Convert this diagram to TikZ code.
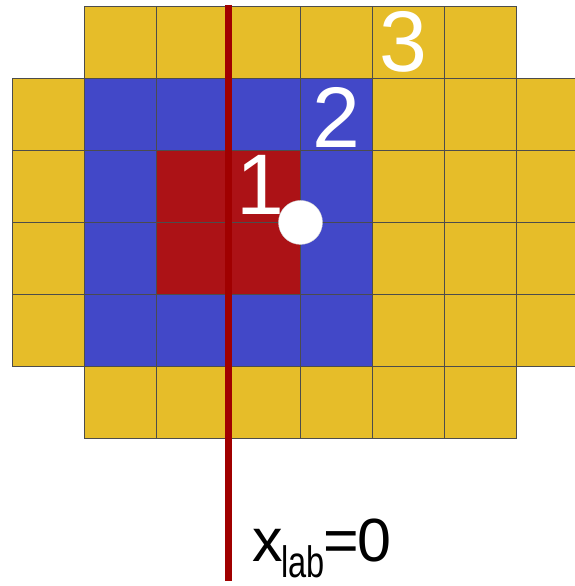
\documentclass[tikz,border=0pt]{standalone}
\usepackage{fontspec}
\setmainfont{Liberation Sans}
\usepackage{xcolor}
\usepackage{tikz}
\usetikzlibrary{calc, positioning}

\definecolor{zoneY}{RGB}{230,189,41}
\definecolor{zoneB}{RGB}{66,72,200}
\definecolor{zoneR}{RGB}{172,18,22}
\definecolor{axisred}{RGB}{160,0,0}

\begin{document}
\begin{tikzpicture}[x=72.05pt, y=-72.05pt,
    ycell/.style={draw=black!70, line width=0.7pt, fill=zoneY},
    bcell/.style={draw=black!70, line width=0.7pt, fill=zoneB},
    rcell/.style={draw=black!70, line width=0.7pt, fill=zoneR},
    ncell/.style={},
    zonelabel/.style={anchor=base west, inner sep=0pt, text=white,
        font=\fontsize{86}{86}\selectfont}]

    % =================================================================
    % 1. KHUNG HINH
    % =================================================================
    \clip (-0.1707,-0.0874) rectangle (7.810,8.046);

    % =================================================================
    % 2. CAC O LUOI (vang = 3, xanh = 2, do = 1)
    % =================================================================
    \foreach \row [count=\r from 0] in {
        {ncell,ycell,ycell,ycell,ycell,ycell,ycell,ncell},
        {ycell,bcell,bcell,bcell,bcell,ycell,ycell,ycell},
        {ycell,bcell,rcell,rcell,bcell,ycell,ycell,ycell},
        {ycell,bcell,rcell,rcell,bcell,ycell,ycell,ycell},
        {ycell,bcell,bcell,bcell,bcell,ycell,ycell,ycell},
        {ncell,ycell,ycell,ycell,ycell,ycell,ycell,ncell}}
    {
        \foreach \c [count=\k from 0] in \row
            \path[\c] (\k,\r) rectangle ++(1,1);
    }

    % =================================================================
    % 3. TRUC x_lab = 0
    % =================================================================
    \coordinate (axtop) at (3,-0.02);
    \coordinate (axbot) at (3,7.98);
    \draw[axisred, line width=7pt] (axtop) -- (axbot);

    % =================================================================
    % 4. DIEM TRANG VA NHAN
    % =================================================================
    \node[circle, fill=white, draw=gray!35, line width=0.4pt,
          minimum size=44pt, inner sep=0pt] (hole) at (4,3) {};

    \node[zonelabel] (lab1) at (3.114,2.883) {1};
    \node[zonelabel] (lab2) at (4.165,1.953) {2};
    \node[zonelabel] (lab3) at (5.094,0.908) {3};

    \node[anchor=base west, inner sep=0pt, font=\fontsize{61}{61}\selectfont]
        (xlab) at (3.337,7.7)
        {x\kern-2pt\raisebox{-16pt}{\scalebox{0.74}[1]{\fontsize{44}{44}\selectfont lab}}\kern-1pt=\kern-2pt0};

\end{tikzpicture}
\end{document}
